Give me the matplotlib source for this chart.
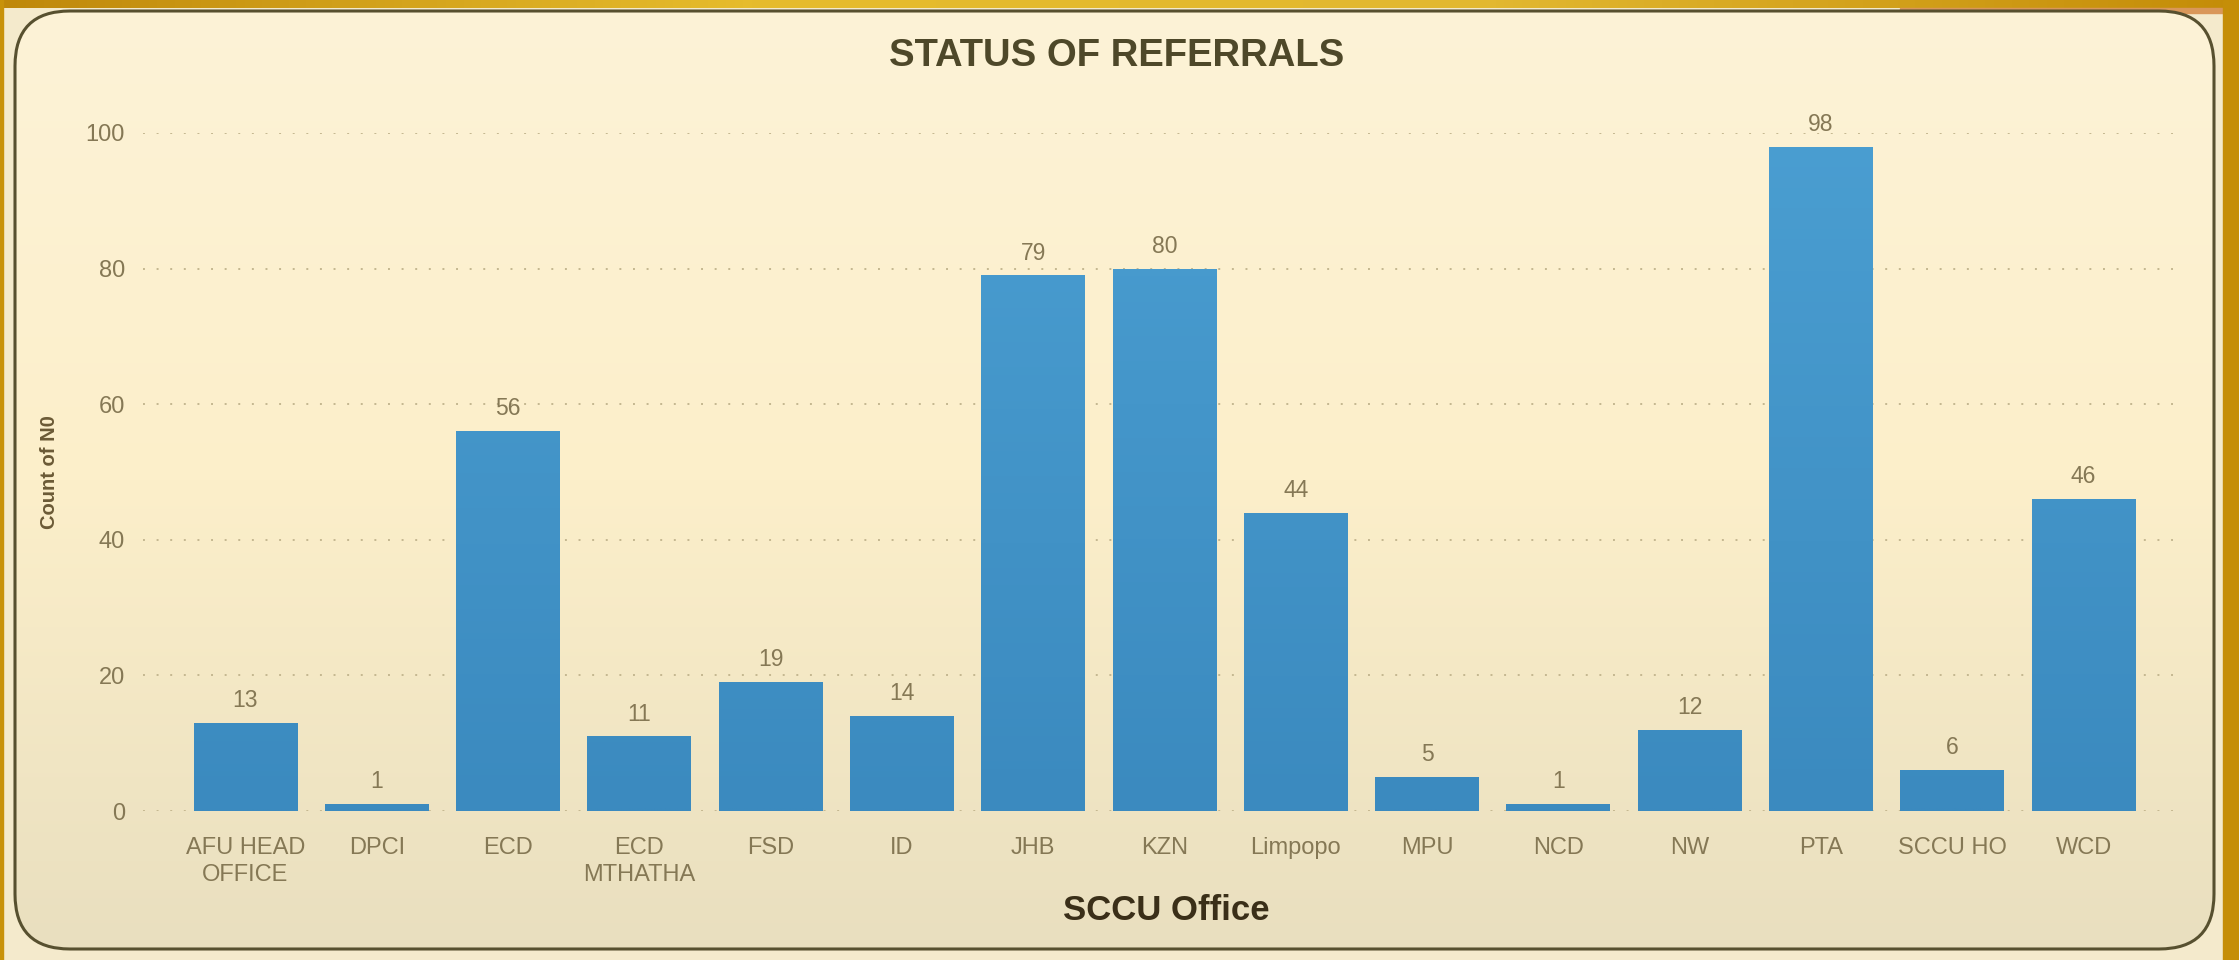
import numpy as np
import matplotlib.pyplot as plt
from matplotlib import font_manager
from matplotlib.patches import FancyBboxPatch, Rectangle
from matplotlib.colors import LinearSegmentedColormap

offices = ["AFU HEAD\nOFFICE", "DPCI", "ECD", "ECD\nMTHATHA", "FSD", "ID", "JHB", "KZN",
           "Limpopo", "MPU", "NCD", "NW", "PTA", "SCCU HO", "WCD"]
counts = [13, 1, 56, 11, 19, 14, 79, 80, 44, 5, 1, 12, 98, 6, 46]
yticks = [0, 20, 40, 60, 80, 100]

W, H = 2239, 960
plt.rcParams['font.family'] = ['Liberation Sans', 'DejaVu Sans']

# narrow face for the y label, if it is installed
try:
    font_manager.findfont('Liberation Sans Narrow', fallback_to_default=False)
    ylab_font, ylab_size = 'Liberation Sans Narrow', 16
except ValueError:
    ylab_font, ylab_size = 'Liberation Sans', 14.5

fig = plt.figure(figsize=(W / 100, H / 100), dpi=100)

# background: cream page, gold strips, rounded panel with gradient
bg = fig.add_axes([0, 0, 1, 1], zorder=-10)
bg.axis('off')
bg.add_patch(Rectangle((0, 0), W, H, color='#F4EACC', zorder=0))
gold = LinearSegmentedColormap.from_list('gold', ['#BF880A', '#E6BC2C', '#E2B830', '#C48C08'])
bg.imshow(np.linspace(0, 1, 256)[None, :], extent=[0, W, 8, 0], cmap=gold,
          aspect='auto', zorder=1)
bg.add_patch(Rectangle((1900, 8), W - 1900, 5, color='#D9975A', zorder=1))
bg.add_patch(Rectangle((2223, 0), W - 2223, H, color='#C58E08', zorder=1))
bg.add_patch(Rectangle((0, 0), 3, H, color='#C8920A', zorder=1))

panel = FancyBboxPatch((15, 11), 2199, 938, boxstyle='round,pad=0,rounding_size=55',
                       facecolor='none', edgecolor='#57502f', lw=2.2, zorder=3)
bg.add_patch(panel)
cream = LinearSegmentedColormap.from_list('cream', ['#FDF3D7', '#FCEFCA', '#E9DFBF'])
im = bg.imshow(np.linspace(0, 1, 256)[:, None], extent=[15, 2214, 949, 11], cmap=cream,
               aspect='auto', zorder=2)
im.set_clip_path(panel)
bg.set_xlim(0, W)
bg.set_ylim(H, 0)

# main chart
ax = fig.add_axes([143 / W, 149 / H, 2039 / W, 678 / H])
ax.set_facecolor('none')
x = np.arange(len(offices))
bars = ax.bar(x, counts, width=0.79, color='#4393C6', zorder=2)

blue = LinearSegmentedColormap.from_list('blue', ['#3B8ABF', '#4A9ED1'])
for b in bars:
    x0, w, h = b.get_x(), b.get_width(), b.get_height()
    g = ax.imshow(np.linspace(h / 100, 0, 64)[:, None], extent=[x0, x0 + w, 0, h],
                  cmap=blue, vmin=0, vmax=1, aspect='auto', zorder=2.5)
    g.set_clip_path(b)

for xi, c in zip(x, counts):
    ax.text(xi, c + 1.6, str(c), ha='center', va='bottom', fontsize=16.5, color='#857855')

ax.set_xlim(-0.78, 14.75)
ax.set_ylim(0, 100)
ax.set_yticks(yticks)
ax.set_xticks(x)
ax.set_xticklabels(offices, fontsize=17, color='#857855', linespacing=1.25)
ax.tick_params(axis='x', length=0, pad=19)
ax.tick_params(axis='y', length=0, pad=13, labelsize=17, labelcolor='#857855')
ax.yaxis.grid(True, linestyle=(0, (1, 6)), color='#C4B790', lw=1.4)
ax.set_axisbelow(True)
for s in ax.spines.values():
    s.set_visible(False)

ax.set_ylabel('Count of N0', fontsize=ylab_size, fontweight='bold', color='#6B5A36',
              family=ylab_font)
ax.yaxis.set_label_coords(-0.041, 0.5)
ax.set_xlabel('SCCU Office', fontsize=25, fontweight='bold', color='#3A2F18', va='center')
ax.xaxis.set_label_coords(0.502, -0.147)

fig.text(1117 / W, 1 - 56 / H, 'STATUS OF REFERRALS', ha='center', va='center',
         fontsize=27.5, fontweight='bold', color='#4E4829')

fig.savefig('out.png', dpi=100)
